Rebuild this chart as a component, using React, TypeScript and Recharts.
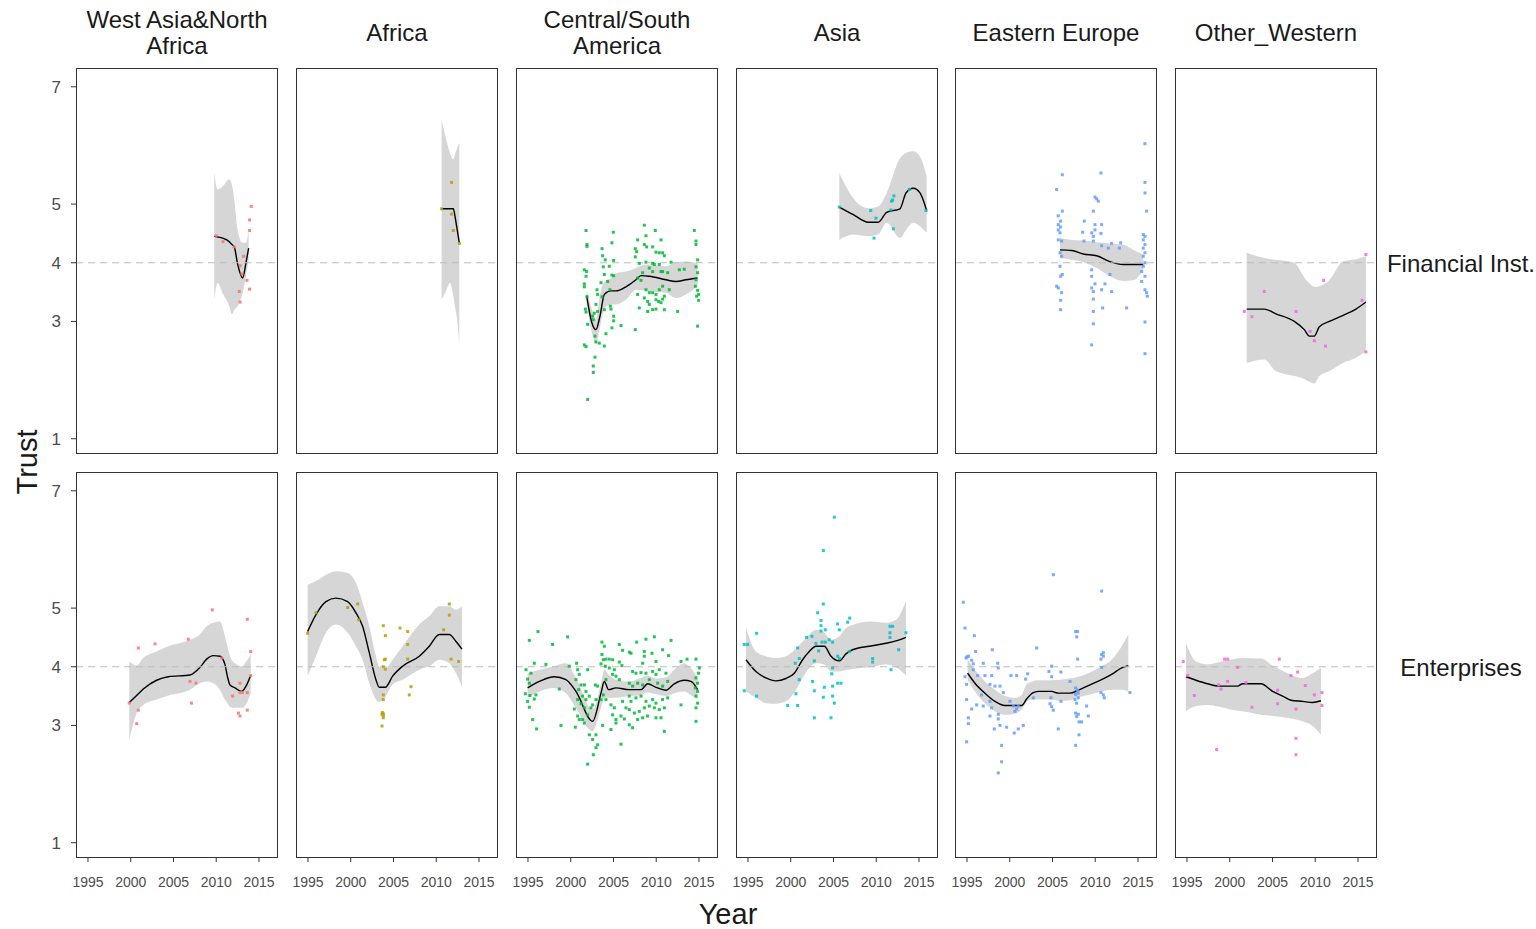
import { Area, ComposedChart, Line, ReferenceLine, Scatter, XAxis, YAxis } from "recharts";

const FONT = "'Liberation Sans', Arial, sans-serif";

const regions = ["West Asia&North\nAfrica", "Africa", "Central/South\nAmerica", "Asia", "Eastern Europe", "Other_Western"];
const trustTypes = ["Financial Inst.", "Enterprises"];
const regionColors = ["#F8766D", "#B79F00", "#00BA38", "#00BFC4", "#619CFF", "#F564E3"];
const yearTicks = [1995, 2000, 2005, 2010, 2015];
const trustTicks = [1, 3, 4, 5, 7];

// ---- Financial Inst. row ----
const westAsiaFinYears = [2009.77, 2010.16, 2010.75, 2011.53, 2011.84, 2012.11, 2012.5, 2013.09, 2013.48, 2013.79];
const westAsiaFinFit = [4.45, 4.44, 4.42, 4.36, 4.31, 4.27, 3.98, 3.74, 4.0, 4.25];
const westAsiaFinLow = [3.37, 3.66, 3.48, 3.26, 3.12, 3.2, 3.26, 3.49, 3.77, 4.05];
const westAsiaFinHigh = [5.54, 5.25, 5.3, 5.42, 5.33, 5.08, 4.56, 4.34, 4.34, 4.56];
const westAsiaFinPoints = [[2014.1, 4.96], [2013.9, 4.73], [2013.9, 4.55], [2010.8, 4.36], [2012.1, 4.27], [2013.2, 4.11], [2012.8, 3.95], [2013.0, 3.81], [2013.6, 3.7], [2013.9, 3.55], [2012.7, 3.51], [2012.8, 3.33], [2010.0, 4.46]];

const africaFinYears = [2010.63, 2011.22, 2011.61, 2012.0, 2012.2, 2012.39, 2012.7];
const africaFinFit = [4.92, 4.92, 4.92, 4.92, 4.79, 4.62, 4.34];
const africaFinLow = [3.37, 3.55, 3.66, 3.43, 3.25, 3.09, 2.63];
const africaFinHigh = [6.44, 6.07, 5.87, 5.76, 5.85, 5.93, 6.04];
const africaFinPoints = [[2010.63, 4.92], [2011.8, 5.37], [2011.8, 4.83], [2012.0, 4.55], [2012.7, 4.33]];

const centralFinYears = [2001.86, 2002.49, 2002.95, 2003.42, 2003.93, 2004.71, 2005.29, 2006.46, 2007.63, 2008.22, 2009.19, 2011.14, 2012.31, 2013.48, 2014.84];
const centralFinFit = [3.44, 2.97, 2.86, 3.09, 3.46, 3.52, 3.52, 3.59, 3.71, 3.78, 3.77, 3.71, 3.68, 3.71, 3.74];
const centralFinLow = [3.31, 2.8, 2.63, 2.9, 3.22, 3.29, 3.29, 3.37, 3.54, 3.53, 3.51, 3.49, 3.4, 3.46, 3.6];
const centralFinHigh = [3.54, 3.2, 3.03, 3.45, 3.68, 3.74, 3.82, 3.85, 3.91, 3.95, 3.97, 3.94, 4.01, 4.02, 3.99];
const centralFinPoints = [
  [2001.79, 4.55], [2001.9, 4.31], [2001.9, 4.28], [2001.59, 3.88], [2001.86, 3.85], [2001.79, 3.77], [2001.59, 3.64], [2001.59, 3.59],
  [2001.9, 3.42], [2001.71, 3.21], [2001.79, 3.16], [2001.98, 2.95], [2001.59, 2.6], [2001.79, 2.57], [2002.56, 3.09], [2002.64, 3.03],
  [2002.76, 3.14], [2002.84, 2.75], [2002.95, 2.65], [2003.34, 2.63], [2002.84, 2.39], [2002.64, 2.24], [2002.64, 2.13], [2001.98, 1.67],
  [2003.07, 3.54], [2003.15, 3.46], [2002.95, 3.29], [2003.15, 3.17], [2003.66, 4.24], [2003.73, 4.12], [2004.04, 4.05], [2003.81, 3.93],
  [2003.93, 3.8], [2003.54, 3.66], [2003.66, 3.42], [2003.93, 3.2], [2003.93, 2.58], [2004.12, 2.79], [2004.82, 4.34], [2004.98, 4.52],
  [2005.02, 4.04], [2004.82, 3.79], [2005.02, 3.78], [2004.59, 3.54], [2004.63, 3.26], [2004.71, 3.21], [2005.02, 3.09], [2005.02, 3.01],
  [2004.82, 2.89], [2005.88, 2.93], [2004.51, 3.94], [2004.32, 3.68],
  [2008.61, 4.64], [2008.8, 4.46], [2007.83, 4.39], [2007.55, 4.24], [2007.71, 4.19], [2008.61, 4.31], [2008.88, 4.27], [2009.58, 4.27],
  [2009.89, 4.55], [2010.56, 4.39], [2009.97, 4.18], [2010.36, 4.17], [2010.75, 4.17], [2010.95, 4.12], [2008.02, 3.99], [2008.8, 4.01],
  [2009.58, 3.99], [2009.78, 3.97], [2010.36, 3.97], [2011.73, 4.01], [2007.55, 4.1], [2009.19, 3.91], [2008.41, 3.83], [2007.83, 3.74],
  [2008.22, 3.7], [2009.58, 3.85], [2010.56, 3.85], [2010.75, 3.85], [2011.34, 3.83], [2012.7, 3.88], [2013.28, 3.89], [2008.8, 3.54],
  [2009.19, 3.49], [2009.58, 3.49], [2009.97, 3.46], [2010.36, 3.54], [2010.75, 3.6], [2010.95, 3.43], [2011.53, 3.54], [2007.83, 3.46],
  [2008.61, 3.4], [2009.0, 3.34], [2009.19, 3.29], [2009.97, 3.37], [2010.28, 3.34], [2010.56, 3.32], [2010.75, 3.38], [2009.0, 3.17],
  [2009.58, 3.2], [2009.97, 3.21], [2010.95, 3.2], [2008.02, 3.23], [2007.55, 2.86], [2012.5, 3.17],
  [2014.45, 4.55], [2014.65, 4.37], [2014.65, 4.31], [2014.84, 4.05], [2014.65, 3.93], [2014.84, 3.83], [2014.65, 3.71], [2014.57, 3.6],
  [2014.84, 3.53], [2014.73, 3.43], [2014.96, 3.36], [2014.84, 2.92], [2014.96, 3.46],
];

const asiaFinYears = [2005.68, 2007.32, 2009.07, 2010.24, 2011.22, 2012.78, 2013.48, 2014.34, 2015.12, 2015.9];
const asiaFinFit = [4.95, 4.82, 4.69, 4.69, 4.86, 4.92, 5.19, 5.27, 5.19, 4.89];
const asiaFinLow = [4.39, 4.48, 4.45, 4.48, 4.68, 4.42, 4.56, 4.68, 4.62, 4.51];
const asiaFinHigh = [5.53, 5.1, 4.93, 4.96, 5.19, 5.78, 5.87, 5.9, 5.81, 5.47];
const asiaFinPoints = [[2005.68, 4.95], [2009.35, 4.89], [2009.97, 4.76], [2009.74, 4.42], [2011.72, 4.9], [2011.92, 5.07], [2012.07, 5.14], [2011.8, 5.05], [2012.0, 4.58], [2013.87, 5.25], [2015.82, 4.89]];

const easternFinYears = [2005.88, 2007.24, 2008.6, 2010.17, 2011.72, 2013.28, 2014.45, 2015.62];
const easternFinFit = [4.22, 4.21, 4.15, 4.12, 4.02, 3.97, 3.97, 3.97];
const easternFinLow = [4.08, 4.05, 4.01, 3.91, 3.77, 3.69, 3.7, 3.88];
const easternFinHigh = [4.42, 4.39, 4.38, 4.35, 4.33, 4.31, 4.22, 4.14];
const easternFinPoints = [
  [2006.15, 5.5], [2005.49, 5.25], [2006.15, 4.88], [2005.68, 4.8], [2005.95, 4.71], [2005.68, 4.65], [2005.95, 4.61], [2005.68, 4.56],
  [2005.88, 4.51], [2005.68, 4.39], [2006.07, 4.37], [2005.88, 4.17], [2006.07, 4.11], [2005.88, 3.94], [2006.15, 3.8], [2005.95, 3.77],
  [2005.49, 3.6], [2005.68, 3.57], [2006.07, 3.49], [2005.95, 3.36], [2005.95, 3.2],
  [2010.67, 5.53], [2009.97, 5.12], [2010.17, 5.09], [2010.36, 5.05], [2009.78, 4.88], [2008.72, 4.71], [2009.97, 4.65], [2010.75, 4.65],
  [2009.97, 4.56], [2008.53, 4.52], [2009.58, 4.51], [2009.78, 4.45], [2010.67, 4.5], [2008.68, 4.37], [2009.78, 4.37], [2010.75, 4.29],
  [2011.92, 4.33], [2011.53, 4.25], [2012.97, 4.34], [2012.82, 4.25], [2009.58, 3.88], [2009.58, 3.77], [2011.72, 3.8], [2009.97, 3.64],
  [2011.14, 3.64], [2009.58, 3.57], [2009.78, 3.51], [2010.75, 3.54], [2011.92, 3.51], [2009.78, 3.38], [2010.87, 3.23], [2013.67, 3.23],
  [2009.78, 3.17], [2009.78, 2.96], [2009.58, 2.6],
  [2015.82, 6.03], [2015.82, 5.37], [2015.82, 5.19], [2016.01, 4.88], [2015.62, 4.48], [2015.82, 4.45], [2015.62, 4.39], [2015.82, 4.31],
  [2015.62, 4.25], [2015.82, 4.17], [2015.62, 4.11], [2015.82, 4.0], [2015.62, 3.94], [2015.43, 3.85], [2015.82, 3.77], [2015.43, 3.68],
  [2015.82, 3.54], [2016.01, 3.49], [2016.09, 3.43], [2015.82, 2.99], [2015.82, 2.45],
];

const otherFinYears = [2001.98, 2004.04, 2005.41, 2007.55, 2008.72, 2009.31, 2009.89, 2010.48, 2011.65, 2013.21, 2014.77, 2015.93];
const otherFinFit = [3.21, 3.21, 3.13, 3.0, 2.86, 2.75, 2.75, 2.91, 3.0, 3.1, 3.21, 3.33];
const otherFinLow = [2.29, 2.35, 2.15, 2.07, 2.02, 1.97, 1.94, 2.07, 2.15, 2.29, 2.38, 2.49];
const otherFinHigh = [4.17, 4.08, 4.05, 4.0, 3.75, 3.65, 3.59, 3.6, 3.7, 4.02, 4.06, 4.11];
const otherFinPoints = [[2001.7, 3.17], [2002.6, 3.08], [2004.04, 3.51], [2007.75, 3.17], [2009.4, 2.83], [2009.9, 2.67], [2011.2, 2.58], [2010.98, 3.7], [2015.47, 3.36], [2015.93, 4.14], [2015.93, 2.48]];

// ---- Enterprises row ----
const westAsiaEntYears = [1999.83, 2000.69, 2001.47, 2003.03, 2004.39, 2006.93, 2008.1, 2008.88, 2009.66, 2010.44, 2011.02, 2011.3, 2011.61, 2012.19, 2012.97, 2013.56, 2014.03];
const westAsiaEntFit = [3.39, 3.51, 3.62, 3.77, 3.83, 3.86, 3.99, 4.13, 4.19, 4.18, 4.04, 3.84, 3.69, 3.64, 3.58, 3.69, 3.85];
const westAsiaEntLow = [2.75, 3.21, 3.35, 3.44, 3.51, 3.61, 3.72, 3.75, 3.72, 3.61, 3.44, 3.38, 3.32, 3.3, 3.3, 3.38, 3.55];
const westAsiaEntHigh = [4.09, 4.02, 4.15, 4.26, 4.35, 4.46, 4.55, 4.69, 4.75, 4.77, 4.52, 4.35, 4.18, 4.06, 4.01, 4.1, 4.21];
const westAsiaEntPoints = [[1999.83, 3.38], [2000.89, 4.32], [2000.89, 3.26], [2000.7, 3.03], [2002.84, 4.39], [2006.73, 4.47], [2009.54, 4.97], [2006.93, 3.75], [2007.63, 3.72], [2007.1, 3.38], [2010.64, 4.15], [2013.63, 4.81], [2014.03, 4.26], [2014.03, 3.85], [2012.78, 3.72], [2012.78, 3.56], [2011.92, 3.5], [2013.05, 3.56], [2013.63, 3.56], [2012.6, 3.21], [2012.78, 3.16], [2013.63, 3.26]];

const africaEntYears = [1994.96, 1995.94, 1997.1, 1998.27, 1999.64, 2000.61, 2001.39, 2002.17, 2002.95, 2003.34, 2004.05, 2004.9, 2006.07, 2008.02, 2009.19, 2010.36, 2011.53, 2012.31, 2013.01];
const africaEntFit = [4.6, 4.89, 5.11, 5.17, 5.11, 4.92, 4.69, 4.24, 3.78, 3.65, 3.65, 3.84, 4.01, 4.18, 4.35, 4.55, 4.55, 4.43, 4.3];
const africaEntLow = [3.84, 4.18, 4.58, 4.72, 4.58, 4.35, 4.12, 3.72, 3.44, 3.4, 3.48, 3.7, 3.78, 3.95, 4.01, 4.12, 4.06, 3.89, 3.67];
const africaEntHigh = [5.4, 5.46, 5.57, 5.63, 5.6, 5.43, 5.09, 4.69, 4.18, 4.0, 3.97, 4.12, 4.35, 4.72, 4.86, 5.03, 5.03, 4.97, 5.03];
const africaEntPoints = [[1994.96, 4.57], [1995.94, 4.92], [1999.64, 5.01], [2000.81, 5.07], [2000.93, 4.8], [2003.81, 4.7], [2004.05, 4.53], [2005.76, 4.66], [2006.66, 4.6], [2006.66, 4.38], [2006.66, 4.13], [2004.05, 4.13], [2003.93, 4.12], [2003.81, 4.0], [2004.05, 3.96], [2007.05, 3.66], [2006.85, 3.52], [2003.81, 3.52], [2003.81, 3.44], [2003.7, 3.22], [2003.81, 3.2], [2003.81, 3.17], [2003.66, 3.19], [2003.81, 3.13], [2003.66, 2.99], [2010.87, 4.63], [2011.53, 5.07], [2011.53, 4.88], [2011.73, 4.13], [2012.62, 4.09]];

const centralEntYears = [1994.96, 1996.33, 1998.08, 1999.44, 2000.61, 2002.56, 2003.54, 2003.93, 2004.43, 2005.29, 2006.85, 2008.22, 2009.0, 2009.97, 2011.14, 2012.11, 2013.28, 2014.06, 2014.84];
const centralEntFit = [3.64, 3.75, 3.83, 3.78, 3.58, 3.07, 3.55, 3.75, 3.61, 3.64, 3.61, 3.61, 3.71, 3.65, 3.6, 3.71, 3.77, 3.75, 3.61];
const centralEntLow = [3.47, 3.58, 3.64, 3.55, 3.3, 2.9, 3.3, 3.47, 3.47, 3.47, 3.5, 3.52, 3.56, 3.53, 3.5, 3.55, 3.58, 3.52, 3.44];
const centralEntHigh = [3.89, 3.95, 4.01, 4.06, 3.81, 3.27, 3.72, 3.95, 3.87, 3.78, 3.75, 3.81, 3.85, 3.8, 3.82, 3.95, 4.06, 3.98, 3.81];
const centralEntPoints = [
  [1995.16, 4.45], [1996.17, 4.6], [1995.74, 4.06], [1994.77, 3.95], [1995.35, 3.89], [1994.96, 3.79], [1995.16, 3.72], [1994.69, 3.54],
  [1995.23, 3.51], [1994.96, 3.41], [1995.74, 3.45], [1995.93, 3.52], [1995.16, 3.31], [1995.55, 3.1], [1996.01, 2.94], [1997.88, 4.38],
  [1999.64, 4.51], [1998.86, 3.0], [1997.1, 4.04], [1998.66, 3.62], [1999.83, 4.01],
  [2000.69, 4.06], [2000.81, 3.95], [2001.0, 3.87], [2000.61, 3.78], [2001.2, 3.69], [2000.93, 3.61], [2001.59, 3.69], [2001.78, 3.58],
  [2001.98, 3.95], [2001.39, 3.5], [2000.81, 3.44], [2001.2, 3.37], [2001.78, 3.44], [2002.17, 3.5], [2001.59, 3.3], [2000.81, 3.16],
  [2001.0, 3.1], [2001.59, 3.04], [2001.98, 3.18], [2002.37, 3.3], [2002.56, 3.35], [2002.95, 3.44], [2002.88, 3.69], [2003.15, 3.67],
  [2000.54, 2.97], [2002.17, 2.84], [2002.56, 2.76], [2002.95, 2.84], [2003.15, 2.67], [2002.95, 2.62], [2002.64, 2.5], [2001.98, 2.34],
  [2001.39, 3.1], [2000.42, 3.28],
  [2003.65, 4.42], [2003.93, 4.35], [2003.65, 4.21], [2003.81, 4.12], [2004.12, 4.13], [2004.51, 4.13], [2004.9, 4.12], [2003.54, 4.05],
  [2004.04, 4.01], [2004.51, 3.98], [2005.1, 3.95], [2005.68, 4.38], [2006.07, 4.28], [2005.68, 4.08], [2005.99, 4.02], [2004.9, 3.87],
  [2005.29, 3.84], [2004.12, 3.78], [2005.68, 3.78], [2003.54, 3.44], [2003.81, 3.52], [2004.12, 3.44], [2004.71, 3.35], [2005.1, 3.3],
  [2004.9, 3.18], [2005.29, 3.1], [2005.88, 3.16], [2006.27, 3.11], [2004.71, 2.93], [2005.29, 3.04], [2003.73, 3.0], [2005.88, 2.68],
  [2006.46, 3.3], [2006.07, 3.41],
  [2006.85, 4.25], [2007.05, 4.23], [2007.71, 4.42], [2008.61, 4.26], [2008.8, 4.47], [2009.78, 4.51], [2009.5, 4.23], [2008.61, 4.18],
  [2008.41, 4.06], [2009.97, 4.09], [2010.75, 4.29], [2011.45, 4.19], [2011.73, 4.45], [2007.24, 3.92], [2007.63, 3.89], [2008.22, 3.9],
  [2008.8, 3.89], [2009.58, 3.92], [2009.97, 3.87], [2010.36, 3.95], [2011.14, 3.89], [2006.85, 3.72], [2007.24, 3.67], [2007.83, 3.72],
  [2008.41, 3.69], [2009.19, 3.78], [2010.17, 3.72], [2010.75, 3.67], [2011.34, 3.75], [2006.85, 3.5], [2007.05, 3.41], [2007.63, 3.47],
  [2008.22, 3.5], [2008.8, 3.41], [2009.19, 3.33], [2009.58, 3.44], [2009.97, 3.38], [2010.75, 3.44], [2011.34, 3.47], [2006.85, 3.27],
  [2007.44, 3.21], [2008.02, 3.24], [2008.61, 3.3], [2008.99, 3.16], [2009.78, 3.3], [2010.36, 3.27], [2010.95, 3.3], [2007.83, 3.1],
  [2008.41, 3.13], [2009.97, 3.13], [2010.56, 3.13], [2010.95, 2.9], [2007.24, 2.96], [2006.85, 3.01],
  [2012.9, 4.09], [2013.6, 4.13], [2014.65, 4.13], [2015.04, 3.98], [2014.96, 3.89], [2014.65, 3.81], [2014.84, 3.72], [2014.57, 3.64],
  [2014.84, 3.58], [2014.65, 3.5], [2014.84, 3.38], [2014.65, 3.3], [2012.9, 3.35], [2014.65, 3.07],
];

const asiaEntYears = [1994.77, 1995.93, 1997.1, 1998.27, 1999.44, 2000.42, 2001.39, 2002.17, 2002.95, 2003.93, 2004.71, 2005.68, 2006.46, 2007.24, 2009.19, 2011.14, 2012.31, 2013.48];
const asiaEntFit = [4.12, 3.92, 3.81, 3.76, 3.8, 3.89, 4.12, 4.26, 4.35, 4.35, 4.18, 4.1, 4.22, 4.29, 4.35, 4.4, 4.44, 4.5];
const asiaEntLow = [3.58, 3.47, 3.38, 3.37, 3.41, 3.56, 3.81, 3.98, 4.06, 4.04, 3.92, 3.92, 3.94, 3.96, 3.99, 4.04, 3.99, 3.85];
const asiaEntHigh = [4.66, 4.26, 4.18, 4.15, 4.18, 4.28, 4.43, 4.55, 4.63, 4.58, 4.46, 4.52, 4.66, 4.71, 4.77, 4.75, 4.8, 5.12];
const asiaEntPoints = [
  [1994.57, 4.38], [1994.96, 4.38], [1994.57, 3.59], [1996.01, 4.57], [1996.01, 3.5], [1999.64, 3.34], [2000.81, 3.34], [2000.61, 3.54],
  [2000.81, 4.32], [2000.53, 4.06], [2001.0, 4.14], [2001.0, 3.78], [2001.86, 4.5], [2002.48, 4.52], [2002.56, 3.75], [2002.76, 3.59],
  [2002.76, 4.1], [2003.15, 4.92], [2002.95, 4.4], [2003.54, 4.79], [2003.54, 4.7], [2003.54, 4.61], [2004.04, 4.63], [2003.81, 5.07],
  [2003.81, 5.98], [2005.1, 6.55], [2003.66, 4.42], [2004.04, 4.42], [2004.51, 4.46], [2004.9, 4.42], [2003.27, 4.27], [2003.93, 3.65],
  [2003.81, 3.48], [2004.9, 3.98], [2004.8, 3.88], [2004.9, 3.67], [2004.9, 3.5], [2005.1, 3.38], [2002.76, 3.13], [2004.71, 3.13],
  [2005.49, 4.73], [2005.68, 4.63], [2005.49, 4.18], [2005.68, 4.14], [2005.49, 3.72], [2005.88, 3.72], [2006.66, 4.76], [2006.9, 4.83],
  [2006.85, 4.26], [2009.58, 4.14], [2009.58, 4.08], [2011.61, 4.69], [2011.61, 4.58], [2011.61, 4.5], [2011.92, 4.69], [2012.62, 4.29],
  [2011.73, 3.95], [2013.48, 4.58],
];

const easternEntYears = [1995.08, 1995.93, 1997.1, 1998.27, 1999.44, 2000.61, 2001.39, 2001.98, 2002.64, 2003.34, 2004.9, 2005.68, 2007.05, 2008.02, 2009.19, 2010.75, 2011.92, 2013.09, 2013.87];
const easternEntFit = [3.89, 3.72, 3.55, 3.41, 3.34, 3.34, 3.34, 3.45, 3.55, 3.58, 3.58, 3.55, 3.55, 3.6, 3.68, 3.78, 3.87, 3.98, 4.02];
const easternEntLow = [3.78, 3.58, 3.38, 3.24, 3.18, 3.2, 3.27, 3.4, 3.44, 3.44, 3.44, 3.42, 3.43, 3.48, 3.52, 3.58, 3.61, 3.61, 3.58];
const easternEntHigh = [4.12, 3.95, 3.75, 3.61, 3.5, 3.47, 3.52, 3.7, 3.75, 3.77, 3.77, 3.78, 3.8, 3.83, 3.89, 4.01, 4.12, 4.35, 4.55];
const easternEntPoints = [
  [1994.57, 5.1], [1994.77, 4.66], [1995.86, 4.53], [1996.01, 4.26], [1995.0, 4.17], [1994.9, 4.15], [1995.2, 4.18], [1995.55, 4.11],
  [1995.74, 4.05], [1995.74, 3.95], [1994.77, 3.83], [1994.96, 3.7], [1996.25, 3.85], [1996.91, 4.06], [1997.1, 3.85], [1997.89, 3.85],
  [1997.96, 4.29], [1998.59, 4.06], [1998.66, 3.98], [1997.69, 3.7], [1998.27, 3.67], [1998.86, 3.67], [1999.25, 3.56], [1996.71, 3.52],
  [1994.96, 3.44], [1996.13, 3.35], [1995.55, 3.28], [1996.91, 3.33], [1997.69, 3.41], [1997.89, 3.3], [1997.69, 3.16], [1995.16, 3.13],
  [1995.16, 3.03], [1998.66, 3.19], [1998.66, 3.11], [1998.86, 3.0], [1998.2, 2.94], [1999.64, 2.97], [2000.53, 2.87], [2001.0, 2.94],
  [2001.59, 3.0], [1994.96, 2.72], [1999.05, 2.66], [1999.05, 2.38], [1998.66, 2.19], [2000.15, 3.85], [2000.81, 3.85], [2001.86, 3.79],
  [2002.1, 3.88], [2000.03, 3.41], [2000.42, 3.33], [2000.81, 3.28], [2000.61, 3.24], [2001.0, 3.33], [2003.15, 4.32], [2002.76, 3.47],
  [2005.1, 5.57], [2004.9, 4.01], [2004.59, 3.92], [2004.9, 3.83], [2005.99, 3.91], [2004.82, 3.47], [2004.71, 3.37], [2004.9, 3.32],
  [2005.1, 3.26], [2005.99, 3.41], [2005.68, 2.94], [2007.71, 4.6], [2007.83, 4.51], [2007.94, 4.6], [2007.94, 4.13], [2007.05, 3.75],
  [2007.71, 3.64], [2007.94, 3.6], [2007.71, 3.53], [2008.02, 3.55], [2007.63, 3.44], [2007.83, 3.38], [2008.02, 3.47], [2007.71, 3.21],
  [2008.02, 3.19], [2007.83, 3.15], [2008.1, 3.06], [2008.41, 3.06], [2008.1, 2.84], [2007.71, 2.66], [2008.99, 3.33], [2009.19, 3.16],
  [2010.75, 5.29], [2010.75, 4.21], [2010.95, 4.18], [2010.67, 4.13], [2010.95, 4.24], [2010.75, 3.99], [2010.67, 3.56], [2010.95, 3.52],
  [2011.06, 3.47], [2014.06, 3.56],
];

const otherEntYears = [1994.88, 1996.05, 1997.42, 1998.78, 2000.93, 2001.51, 2003.65, 2005.02, 2006.19, 2007.16, 2008.53, 2009.7, 2010.67];
const otherEntFit = [3.83, 3.77, 3.71, 3.67, 3.67, 3.71, 3.71, 3.58, 3.5, 3.43, 3.41, 3.39, 3.42];
const otherEntLow = [3.24, 3.33, 3.35, 3.32, 3.25, 3.24, 3.18, 3.16, 3.14, 3.12, 3.07, 2.99, 2.84];
const otherEntHigh = [4.4, 4.09, 4.04, 4.08, 4.14, 4.15, 4.14, 4.02, 3.93, 3.86, 3.81, 3.89, 3.98];
const otherEntPoints = [[1994.57, 4.09], [1995.08, 3.85], [1995.86, 3.51], [1999.4, 4.13], [1999.76, 4.13], [2000.93, 3.99], [1999.76, 3.75], [1998.7, 3.69], [1998.98, 3.62], [2001.9, 3.73], [2002.6, 3.31], [2005.8, 4.13], [2005.6, 3.6], [2005.6, 3.37], [2007.16, 3.85], [2007.94, 3.91], [2008.84, 3.68], [2009.9, 3.52], [2010.79, 3.56], [2010.79, 3.34], [2007.75, 3.28], [2007.75, 2.78], [2007.75, 2.5], [1998.47, 2.59]];

const panels = [
  { row: 0, col: 0, years: westAsiaFinYears, fit: westAsiaFinFit, low: westAsiaFinLow, high: westAsiaFinHigh, points: westAsiaFinPoints },
  { row: 0, col: 1, years: africaFinYears, fit: africaFinFit, low: africaFinLow, high: africaFinHigh, points: africaFinPoints },
  { row: 0, col: 2, years: centralFinYears, fit: centralFinFit, low: centralFinLow, high: centralFinHigh, points: centralFinPoints },
  { row: 0, col: 3, years: asiaFinYears, fit: asiaFinFit, low: asiaFinLow, high: asiaFinHigh, points: asiaFinPoints },
  { row: 0, col: 4, years: easternFinYears, fit: easternFinFit, low: easternFinLow, high: easternFinHigh, points: easternFinPoints },
  { row: 0, col: 5, years: otherFinYears, fit: otherFinFit, low: otherFinLow, high: otherFinHigh, points: otherFinPoints },
  { row: 1, col: 0, years: westAsiaEntYears, fit: westAsiaEntFit, low: westAsiaEntLow, high: westAsiaEntHigh, points: westAsiaEntPoints },
  { row: 1, col: 1, years: africaEntYears, fit: africaEntFit, low: africaEntLow, high: africaEntHigh, points: africaEntPoints },
  { row: 1, col: 2, years: centralEntYears, fit: centralEntFit, low: centralEntLow, high: centralEntHigh, points: centralEntPoints },
  { row: 1, col: 3, years: asiaEntYears, fit: asiaEntFit, low: asiaEntLow, high: asiaEntHigh, points: asiaEntPoints },
  { row: 1, col: 4, years: easternEntYears, fit: easternEntFit, low: easternEntLow, high: easternEntHigh, points: easternEntPoints },
  { row: 1, col: 5, years: otherEntYears, fit: otherEntFit, low: otherEntLow, high: otherEntHigh, points: otherEntPoints },
];

// layout (px)
const PANEL_LEFT = [76, 296, 516, 736, 955, 1175];
const PANEL_TOP = [68, 472];
const PW = 202;
const PH = 386;
const PAD = 20; // room for edge tick labels
const Y_AXIS_W = 40;
const X_AXIS_H = 40;
const X_DOMAIN = [1993.6, 1993.6 + PW / 8.55];
const Y_DOMAIN = [0.74, 7.32];

function Panel({ row, col, years, fit, low, high, points }) {
  const showY = col === 0;
  const showX = row === 1;
  const yW = showY ? Y_AXIS_W : 0;
  const xH = showX ? X_AXIS_H : 0;
  const color = regionColors[col];
  const data = years.map((year, i) => ({ year, fit: fit[i], band: [low[i], high[i]] }));
  const pts = points.map(([year, trust]) => ({ year, trust }));

  return (
    <div style={{ position: "absolute", left: PANEL_LEFT[col] - yW - PAD, top: PANEL_TOP[row] }}>
      <ComposedChart width={PW + yW + 2 * PAD} height={PH + xH} data={data} margin={{ top: 0, right: PAD, bottom: 0, left: PAD }}>
        <XAxis
          type="number"
          dataKey="year"
          domain={X_DOMAIN}
          ticks={yearTicks}
          interval={0}
          allowDataOverflow
          hide={!showX}
          height={xH}
          axisLine={false}
          tickSize={4}
          tickMargin={15}
          tickLine={{ stroke: "#333333" }}
          tick={{ fill: "#4d4d4d", fontSize: 14, fontFamily: FONT }}
        />
        <YAxis
          type="number"
          domain={Y_DOMAIN}
          ticks={trustTicks}
          interval={0}
          allowDataOverflow
          hide={!showY}
          width={yW}
          axisLine={false}
          tickSize={5}
          tickMargin={10}
          tickLine={{ stroke: "#333333" }}
          tick={{ fill: "#4d4d4d", fontSize: 17, fontFamily: FONT }}
        />
        <Scatter
          data={pts}
          dataKey="trust"
          isAnimationActive={false}
          shape={(p: any) => <rect x={p.cx - 1.5} y={p.cy - 1.5} width={3} height={3} fill={color} fillOpacity={0.85} />}
        />
        <Area
          dataKey="band"
          type="monotone"
          stroke="none"
          fill="#999999"
          fillOpacity={0.4}
          isAnimationActive={false}
        />
        <Line dataKey="fit" type="monotone" stroke="#000000" strokeWidth={1.4} dot={false} isAnimationActive={false} />
        <ReferenceLine y={4} stroke="#bdbdbd" strokeWidth={1.2} strokeDasharray="7 5" />
      </ComposedChart>
      <div
        style={{
          position: "absolute",
          left: yW + PAD,
          top: 0,
          width: PW,
          height: PH,
          boxSizing: "border-box",
          border: "1px solid #333333",
          pointerEvents: "none",
        }}
      />
    </div>
  );
}

export default function App() {
  return (
    <div style={{ position: "absolute", left: 0, top: 0, width: 1536, height: 929, background: "#ffffff", fontFamily: FONT, color: "#1a1a1a" }}>
      {regions.map((r, i) => (
        <div
          key={r}
          style={{
            position: "absolute",
            left: PANEL_LEFT[i] - 20,
            width: PW + 40,
            top: 33 - (r.includes("\n") ? 26 : 13),
            textAlign: "center",
            whiteSpace: "pre-line",
            fontSize: 24,
            lineHeight: "26px",
          }}
        >
          {r}
        </div>
      ))}
      {trustTypes.map((t, i) => (
        <div
          key={t}
          style={{ position: "absolute", left: 1380, width: 162, top: PANEL_TOP[i] + PH / 2 - 13 + 3, textAlign: "center", fontSize: 24, lineHeight: "26px" }}
        >
          {t}
        </div>
      ))}
      {panels.map((p) => (
        <Panel key={`${p.row}-${p.col}`} {...p} />
      ))}
      <div style={{ position: "absolute", left: 628, width: 200, top: 898, textAlign: "center", fontSize: 29, lineHeight: "32px" }}>Year</div>
      <div
        style={{
          position: "absolute",
          left: 27 - 50,
          top: 462 - 16,
          width: 100,
          textAlign: "center",
          fontSize: 29,
          lineHeight: "32px",
          transform: "rotate(-90deg)",
        }}
      >
        Trust
      </div>
    </div>
  );
}
